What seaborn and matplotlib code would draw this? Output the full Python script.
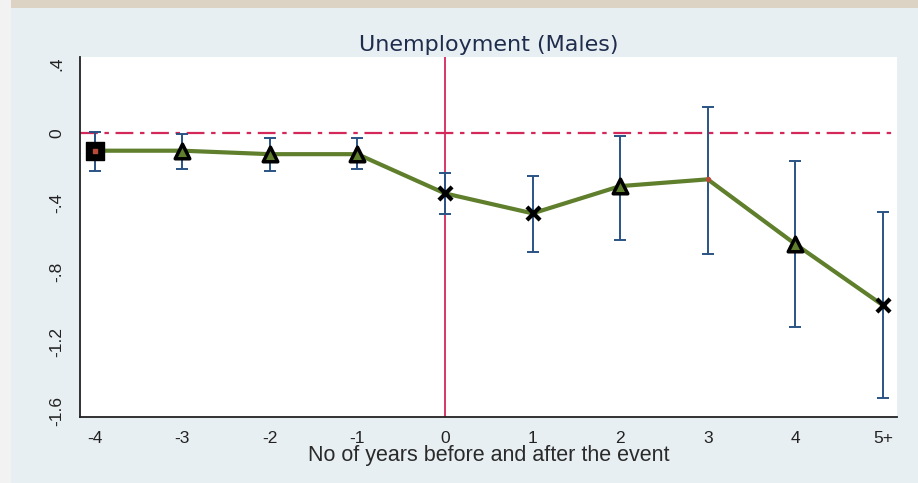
import numpy as np
import pandas as pd
import seaborn as sns
from matplotlib import pyplot as plt
from matplotlib.patches import Rectangle

# event-study estimates
years = ["-4", "-3", "-2", "-1", "0", "1", "2", "3", "4", "5+"]
coef = [-0.10, -0.10, -0.12, -0.12, -0.346, -0.461, -0.304, -0.265, -0.638, -0.99]
ci_low = [-0.217, -0.207, -0.217, -0.207, -0.465, -0.682, -0.615, -0.696, -1.118, -1.524]
ci_high = [0.01, -0.004, -0.029, -0.029, -0.23, -0.246, -0.014, 0.153, -0.158, -0.452]
mark = ["square", "tri", "tri", "tri", "cross", "cross", "tri", "none", "tri", "cross"]

yticks = [0.4, 0.0, -0.4, -0.8, -1.2, -1.6]
ytick_labels = [".4", "0", "-.4", "-.8", "-1.2", "-1.6"]

df = pd.DataFrame({"year": years, "coef": coef, "lo": ci_low, "hi": ci_high, "mark": mark})
df["pos"] = np.arange(len(df)) - 4

sns.set_style("white")
plt.rcParams['font.family'] = ['Liberation Sans', 'DejaVu Sans']

BG = "#e8eff2"
fig = plt.figure(figsize=(9.18, 4.83), dpi=100, facecolor=BG)
fig.patches.append(Rectangle((0, 0.983), 1, 0.017, transform=fig.transFigure,
                             facecolor="#ddd3c4", edgecolor="none", zorder=-1))
fig.patches.append(Rectangle((0, 0), 0.012, 1, transform=fig.transFigure,
                             facecolor="#f2f2f2", edgecolor="none", zorder=-1))
ax = fig.add_axes([0.087, 0.1366, 0.890, 0.7455])
ax.set_facecolor("white")

# reference lines
ax.axhline(0, color="#d4285a", lw=1.6, ls=(0, (8, 3, 2, 3)), zorder=1)
ax.axvline(0, color="#d4285a", lw=1.3, zorder=1)

# confidence intervals
ax.errorbar(df["pos"], df["coef"],
            yerr=[df["coef"] - df["lo"], df["hi"] - df["coef"]],
            fmt="none", ecolor="#2a5384", elinewidth=1.4, capsize=4.5, capthick=1.4, zorder=2)

# estimate line
sns.lineplot(data=df, x="pos", y="coef", color="#5f7f2c", lw=3, ax=ax, zorder=3)

# markers
sub = df[df["mark"] == "square"]
ax.scatter(sub["pos"], sub["coef"], marker="s", s=150, color="black", zorder=4)
ax.scatter(sub["pos"], sub["coef"], marker="s", s=10, color="#b84a3a", zorder=5)
sub = df[df["mark"] == "tri"]
ax.scatter(sub["pos"], sub["coef"], marker="^", s=110, facecolor="#5f7f2c",
           edgecolor="black", linewidths=2.5, zorder=4)
sub = df[df["mark"] == "cross"]
ax.scatter(sub["pos"], sub["coef"], marker="x", s=90, color="black", linewidths=3, zorder=4)
sub = df[df["mark"] == "none"]
ax.scatter(sub["pos"], sub["coef"], marker="o", s=8, color="#b84a3a", zorder=4)

ax.set_xlim(-4.17, 5.16)
ax.set_ylim(-1.634, 0.44)
ax.set_xticks(df["pos"])
ax.set_xticklabels(years, fontsize=12.5, color="#222222")
ax.set_yticks(yticks)
ax.set_yticklabels(ytick_labels, fontsize=12.5, rotation=90, va="center", color="#222222")
ax.tick_params(axis="both", direction="out", length=8, width=1.2, color="#222222", pad=2)
ax.tick_params(axis="y", pad=3)
ax.set_xlabel("No of years before and after the event", fontsize=15.5, labelpad=-1, color="#2a2a2a")
ax.set_ylabel("")
ax.set_title("Unemployment (Males)", fontsize=16, color="#1f2d4d", pad=4,
             family=["DejaVu Sans"])

for side in ["top", "right"]:
    ax.spines[side].set_visible(False)
for side in ["left", "bottom"]:
    ax.spines[side].set_color("#222222")
    ax.spines[side].set_linewidth(1.3)

fig.savefig("out.png", dpi=100, facecolor=BG)
